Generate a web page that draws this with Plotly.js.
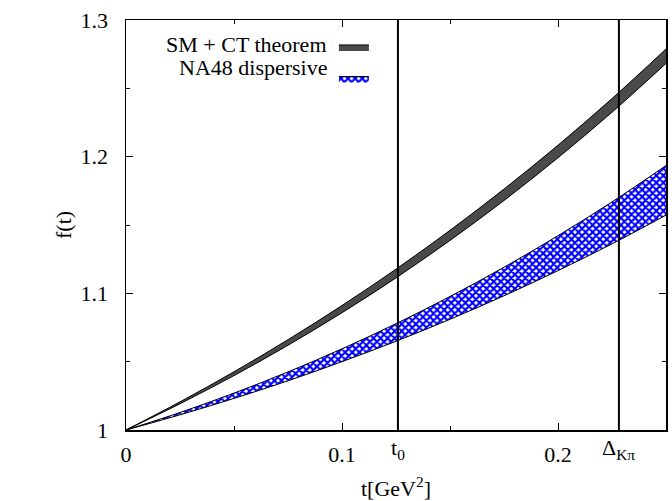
<!DOCTYPE html>
<html>
<head>
<meta charset="utf-8">
<script src="https://cdn.plot.ly/plotly-3.0.1.min.js"></script>
<style>html,body{margin:0;padding:0;background:#fff;}#chart{width:672px;height:501px;}</style>
</head>
<body>
<div id="chart"></div>
<script>
// t values [GeV^2]
var tVals = [0, 0.025, 0.05, 0.075, 0.1, 0.125, 0.15, 0.175, 0.2, 0.225, 0.25];
// SM + CT theorem band
var smUpper = [1, 1.0206, 1.0426, 1.0661, 1.0911, 1.1177, 1.1461, 1.1763, 1.2084, 1.2425, 1.2788];
var smLower = [1, 1.0192, 1.0398, 1.0620, 1.0858, 1.1113, 1.1387, 1.1679, 1.1992, 1.2325, 1.2682];
// NA48 dispersive band
var naUpper = [1, 1.0128, 1.0270, 1.0425, 1.0594, 1.0778, 1.0977, 1.1191, 1.1422, 1.1669, 1.1935];
var naLower = [1, 1.0111, 1.0231, 1.0360, 1.0500, 1.0649, 1.0810, 1.0982, 1.1166, 1.1362, 1.1572];
// special t values
var t0 = 0.1259;
var deltaKpi = 0.2282;
var specialLabels = ['t<sub>0</sub>', 'Δ<sub>Kπ</sub>'];
var seriesNames = ['SM + CT theorem', 'NA48 dispersive'];
var xTickVals = [0, 0.1, 0.2];
var xTickText = ['0', '0.1', '0.2'];
var yTickVals = [1, 1.1, 1.2, 1.3];
var yTickText = ['1', '1.1', '1.2', '1.3'];
var xTitle = 't[GeV<sup>2</sup>]';
var yTitle = 'f(t)';

var FONT = '"Liberation Serif", "Times New Roman", Times, serif';
var FS = 22;

var traces = [
  {x: tVals, y: smLower, mode: 'lines', line: {color: 'black', width: 1, shape: 'spline'}, showlegend: false, hoverinfo: 'skip', legendgroup: 'sm'},
  {x: tVals, y: smUpper, mode: 'lines', line: {color: 'black', width: 1, shape: 'spline'}, fill: 'tonexty', fillcolor: '#4a4a4a', name: ' ', legendgroup: 'sm'},
  {x: tVals, y: naLower, mode: 'lines', line: {color: 'black', width: 1, shape: 'spline'}, showlegend: false, hoverinfo: 'skip', legendgroup: 'na'},
  {x: tVals, y: naUpper, mode: 'lines', line: {color: 'black', width: 1, shape: 'spline'}, fill: 'tonexty', fillcolor: 'white',
   fillpattern: {shape: 'x', fgcolor: '#0000ff', bgcolor: 'white', size: 5, solidity: 0.65}, name: '  ', legendgroup: 'na'}
];

var layout = {
  width: 672, height: 501,
  margin: {l: 126, r: 6, t: 20, b: 71},
  paper_bgcolor: 'white', plot_bgcolor: 'white',
  font: {family: FONT, size: FS, color: 'black'},
  showlegend: true,
  legend: {x: 0.385, y: 0.985, xanchor: 'left', yanchor: 'top', bgcolor: 'rgba(0,0,0,0)', borderwidth: 0,
           traceorder: 'normal', itemwidth: 30, tracegroupgap: 0, font: {family: FONT, size: FS}},
  xaxis: {range: [0, 0.25], tickmode: 'array', tickvals: xTickVals, ticktext: xTickText,
          ticks: 'inside', ticklen: 7, tickcolor: 'black', showline: true, linecolor: 'black', linewidth: 1.5,
          mirror: 'ticks', showgrid: false, zeroline: false, ticklabelstandoff: 4,
          tickfont: {family: FONT, size: FS},
          minor: {tickvals: [0.05, 0.15], ticks: 'inside', ticklen: 4, tickcolor: 'black', showgrid: false}},
  yaxis: {range: [1, 1.3], tickmode: 'array', tickvals: yTickVals, ticktext: yTickText,
          ticks: 'inside', ticklen: 7, tickcolor: 'black', showline: true, linecolor: 'black', linewidth: 1.5,
          mirror: 'ticks', showgrid: false, zeroline: false, ticklabelstandoff: 12,
          tickfont: {family: FONT, size: FS},
          minor: {tickvals: [1.05, 1.15, 1.25], ticks: 'inside', ticklen: 4, tickcolor: 'black', showgrid: false}},
  shapes: [
    {type: 'line', xref: 'x', yref: 'paper', x0: t0, x1: t0, y0: 0, y1: 1, line: {color: 'black', width: 2}},
    {type: 'line', xref: 'x', yref: 'paper', x0: deltaKpi, x1: deltaKpi, y0: 0, y1: 1, line: {color: 'black', width: 2}}
  ],
  annotations: [
    {xref: 'paper', yref: 'paper', x: 0.375, y: 0.94, xanchor: 'right', yanchor: 'middle', showarrow: false,
     text: seriesNames[0], font: {family: FONT, size: FS}},
    {xref: 'paper', yref: 'paper', x: 0.375, y: 0.885, xanchor: 'right', yanchor: 'middle', showarrow: false,
     text: seriesNames[1], font: {family: FONT, size: FS}},
    {xref: 'x', yref: 'paper', x: t0, y: 0, yshift: -3, xanchor: 'center', yanchor: 'top', showarrow: false,
     text: specialLabels[0], font: {family: FONT, size: FS}},
    {xref: 'x', yref: 'paper', x: deltaKpi, y: 0, yshift: -3, xanchor: 'center', yanchor: 'top', showarrow: false,
     text: specialLabels[1], font: {family: FONT, size: FS}},
    {xref: 'paper', yref: 'paper', x: 0.5, y: 0, yshift: -57, xanchor: 'center', yanchor: 'middle', showarrow: false,
     text: xTitle, font: {family: FONT, size: FS}},
    {xref: 'paper', yref: 'paper', x: 0, xshift: -63, y: 0.5, xanchor: 'center', yanchor: 'middle', textangle: -90, showarrow: false,
     text: yTitle, font: {family: FONT, size: FS}}
  ]
};

Plotly.newPlot('chart', traces, layout, {displayModeBar: false, staticPlot: true});
</script>
</body>
</html>
